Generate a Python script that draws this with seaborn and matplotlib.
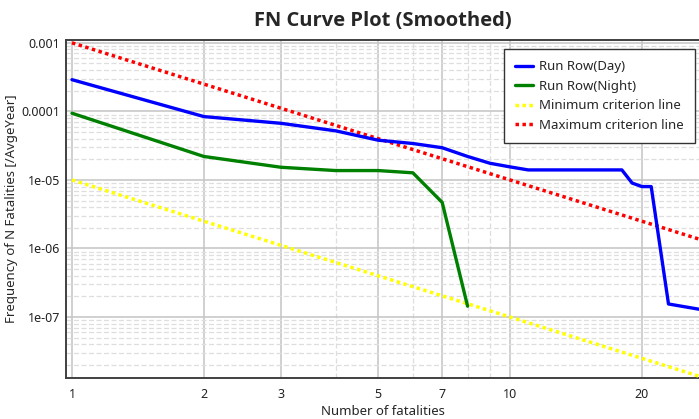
import matplotlib
matplotlib.use("Agg")
import matplotlib.pyplot as plt
import matplotlib.ticker as ticker
import pandas as pd
import seaborn as sns

# values
n_day = [1, 2, 3, 4, 5, 6, 7, 8, 9, 10, 11, 18, 19, 20, 21, 23, 27]
freq_day = [2.9e-4, 8.4e-5, 6.7e-5, 5.2e-5, 3.8e-5, 3.4e-5, 2.95e-5, 2.2e-5,
            1.75e-5, 1.55e-5, 1.4e-5, 1.4e-5, 9.0e-6, 8.0e-6, 8.0e-6, 1.55e-7, 1.3e-7]

n_night = [1, 2, 3, 4, 5, 6, 7, 8]
freq_night = [9.4e-5, 2.2e-5, 1.53e-5, 1.37e-5, 1.37e-5, 1.27e-5, 4.7e-6, 1.44e-7]

n_crit = [1, 30]
freq_min = [1e-5, 1.11e-8]
freq_max = [1e-3, 1.11e-6]

x_ticks = [1, 2, 3, 5, 7, 10, 20]
x_minor = [4, 6, 8, 9]
y_ticks = [1e-7, 1e-6, 1e-5, 1e-4, 1e-3]


def main():
    sns.set_style("white")
    plt.rcParams['font.family'] = ['Noto Sans', 'DejaVu Sans']

    fig = plt.figure(figsize=(6.99, 4.19), dpi=100)
    ax = fig.add_axes([66 / 699, 1 - 378 / 419, 633 / 699, 338 / 419])

    day = pd.DataFrame({'N': n_day, 'F': freq_day})
    night = pd.DataFrame({'N': n_night, 'F': freq_night})
    crit = pd.DataFrame({'N': n_crit, 'Fmin': freq_min, 'Fmax': freq_max})

    sns.lineplot(x='N', y='F', data=day, ax=ax, color='#0000ff', lw=2.4,
                 label='Run Row(Day)', zorder=4)
    sns.lineplot(x='N', y='F', data=night, ax=ax, color='#008000', lw=2.4,
                 label='Run Row(Night)', zorder=4)
    sns.lineplot(x='N', y='Fmin', data=crit, ax=ax, color='#ffff00', lw=2.5,
                 linestyle=(0, (1, 1)), label='Minimum criterion line', zorder=3)
    sns.lineplot(x='N', y='Fmax', data=crit, ax=ax, color='#ff0000', lw=2.5,
                 linestyle=(0, (1, 1)), label='Maximum criterion line', zorder=3)

    ax.set_xscale('log')
    ax.set_yscale('log')
    ax.set_xlim(0.969, 27.0)
    ax.set_ylim(1.29e-8, 1.1e-3)

    ax.xaxis.set_major_locator(ticker.FixedLocator(x_ticks))
    ax.xaxis.set_minor_locator(ticker.FixedLocator(x_minor))
    ax.xaxis.set_major_formatter(ticker.FuncFormatter(lambda v, p: f'{v:g}'))
    ax.xaxis.set_minor_formatter(ticker.NullFormatter())
    ax.yaxis.set_major_locator(ticker.FixedLocator(y_ticks))
    ax.yaxis.set_minor_locator(ticker.LogLocator(base=10, subs=range(2, 10)))
    ax.yaxis.set_major_formatter(ticker.FuncFormatter(lambda v, p: f'{v:g}'))
    ax.yaxis.set_minor_formatter(ticker.NullFormatter())
    ax.tick_params(which='both', length=0, labelsize=9, colors='#222222')
    ax.tick_params(axis='x', pad=7)
    ax.tick_params(axis='y', pad=4)

    ax.grid(which='major', color='#c4c4c4', lw=1.1, ls='-')
    ax.grid(which='minor', color='#dedede', lw=0.9, ls='--', dashes=(4, 2))

    for side in ['left', 'bottom', 'top']:
        ax.spines[side].set_color('#404040')
        ax.spines[side].set_linewidth(1.4)
    ax.spines['right'].set_visible(False)

    ax.set_title('FN Curve Plot (Smoothed)', fontsize=14.5, fontweight='bold',
                 family=['Open Sans', 'DejaVu Sans'], pad=10)
    ax.set_xlabel('Number of fatalities', fontsize=9.5, labelpad=3)
    ax.set_ylabel('Frequency of N Fatalities [/AvgeYear]', fontsize=9.5)
    ax.yaxis.set_label_coords(-0.076, 0.5)

    leg = ax.legend(loc='upper right', bbox_to_anchor=(0.9937, 0.9734),
                    borderaxespad=0, fontsize=9.5, frameon=True, fancybox=False,
                    framealpha=1, edgecolor='#333333', handlelength=1.4,
                    labelspacing=0.5, borderpad=0.85, handletextpad=0.45)
    leg.get_frame().set_linewidth(1.0)

    fig.savefig('out.png', dpi=100)


if __name__ == "__main__":
    main()
